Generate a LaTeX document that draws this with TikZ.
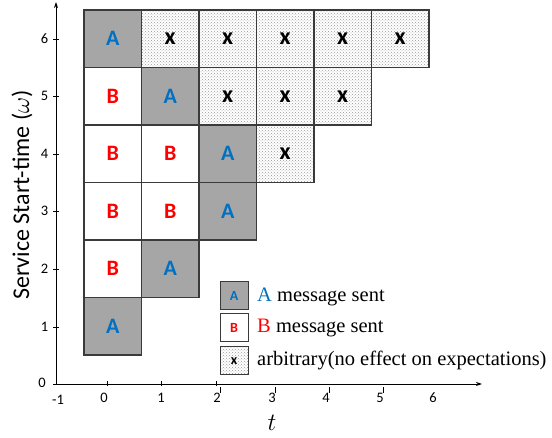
\documentclass[tikz,border=0pt]{standalone}
\usepackage{fontspec}
\setmainfont{Liberation Serif}
\newfontfamily\calib{Carlito}
\usetikzlibrary{patterns,arrows.meta}
\definecolor{cellgray}{HTML}{A6A6A6}
\definecolor{ablue}{HTML}{0070C0}
\definecolor{bred}{HTML}{FF0000}
\definecolor{edgecol}{HTML}{3A3A3A}
\tikzset{
  cellbase/.style={draw=edgecol, line width=1.1pt, minimum size=57.5pt, inner sep=0pt,
    font=\calib\bfseries\fontsize{22}{22}\selectfont},
  cellA/.style={cellbase, fill=cellgray, text=ablue},
  cellB/.style={cellbase, fill=white, text=bred},
  cellX/.style={cellbase, pattern=crosshatch dots, pattern color=gray!80, text=black,
    font=\calib\bfseries\fontsize{24}{24}\selectfont},
  legbox/.style={draw=edgecol, line width=1pt, minimum size=28pt, inner sep=0pt,
    font=\calib\bfseries\fontsize{14}{14}\selectfont},
  legtext/.style={anchor=west, inner sep=0pt, font=\fontsize{20.5}{20.5}\selectfont},
  ticklab/.style={inner sep=0pt, font=\calib\fontsize{14.5}{14.5}\selectfont},
  axisline/.style={line width=0.9pt, -{Stealth[length=6pt,width=4pt]}},
  tickmark/.style={line width=0.8pt},
}
\begin{document}
\begin{tikzpicture}[x=1pt,y=-1pt]
\useasboundingbox (0,0) rectangle (552,438);

% cells: column c, row w -> centre (112.75+57.5c, 38.75+57.5(6-w))
% row 6
\node[cellA] (c06) at (112.75,38.75) {A};
\node[cellX] (c16) at (170.25,38.75) {x};
\node[cellX] (c26) at (227.75,38.75) {x};
\node[cellX] (c36) at (285.25,38.75) {x};
\node[cellX] (c46) at (342.75,38.75) {x};
\node[cellX] (c56) at (400.25,38.75) {x};
% row 5
\node[cellB] (c05) at (112.75,96.25) {B};
\node[cellA] (c15) at (170.25,96.25) {A};
\node[cellX] (c25) at (227.75,96.25) {x};
\node[cellX] (c35) at (285.25,96.25) {x};
\node[cellX] (c45) at (342.75,96.25) {x};
% row 4
\node[cellB] (c04) at (112.75,153.75) {B};
\node[cellB] (c14) at (170.25,153.75) {B};
\node[cellA] (c24) at (227.75,153.75) {A};
\node[cellX] (c34) at (285.25,153.75) {x};
% row 3
\node[cellB] (c03) at (112.75,211.25) {B};
\node[cellB] (c13) at (170.25,211.25) {B};
\node[cellA] (c23) at (227.75,211.25) {A};
% row 2
\node[cellB] (c02) at (112.75,268.75) {B};
\node[cellA] (c12) at (170.25,268.75) {A};
% row 1
\node[cellA] (c01) at (112.75,326.25) {A};

% axes
\coordinate (orig) at (56,384);
\coordinate (xend) at (482,384);
\coordinate (yend) at (56,2);
\coordinate (xstart) at (53,384);
\draw[axisline] (xstart) -- (xend);
\draw[axisline] (orig) -- (yend);

% y ticks and labels
\foreach \v/\yy in {1/327,2/269,3/211,4/154,5/96,6/39}{
  \draw[tickmark] (53,\yy) -- (58.5,\yy);
  \node[ticklab] (ylab\v) at (44.5,\yy) {\v};
}
\node[ticklab] (ylab0) at (42,383) {0};

% x ticks and labels
\foreach \xx in {107,161,216}{
  \draw[tickmark] (\xx,381.5) -- (\xx,386.5);
}
\foreach \xx in {220,275,329,383}{
  \draw[line width=0.5pt] (\xx,387) -- (\xx,393);
}
\node[ticklab] (xlabm1) at (58,400) {-1};
\foreach \v/\xx in {0/104,1/161,2/217,3/272,4/326,5/380,6/433}{
  \node[ticklab] (xlab\v) at (\xx,398) {\v};
}

% axis titles
\node[inner sep=0pt, font=\fontsize{26}{26}\selectfont] (tlab) at (272,423) {$t$};
\node[rotate=90, inner sep=0pt, font=\calib\fontsize{24}{24}\selectfont] (wlab) at (22,195) {Service Start-time ($\omega$)};

% legend
\node[legbox, fill=cellgray, text=ablue] (legA) at (234,296) {A};
\node[legbox, fill=white, text=bred] (legB) at (234,327.5) {B};
\node[legbox, pattern=crosshatch dots, pattern color=gray!80, text=black] (legX) at (234,361) {x};
\node[legtext] (legAt) at (257,297) {\textcolor{ablue}{A} message sent};
\node[legtext] (legBt) at (257,328) {\textcolor{bred}{B} message sent};
\node[legtext] (legXt) at (257,360) {arbitrary(no effect on expectations)};
\end{tikzpicture}
\end{document}
